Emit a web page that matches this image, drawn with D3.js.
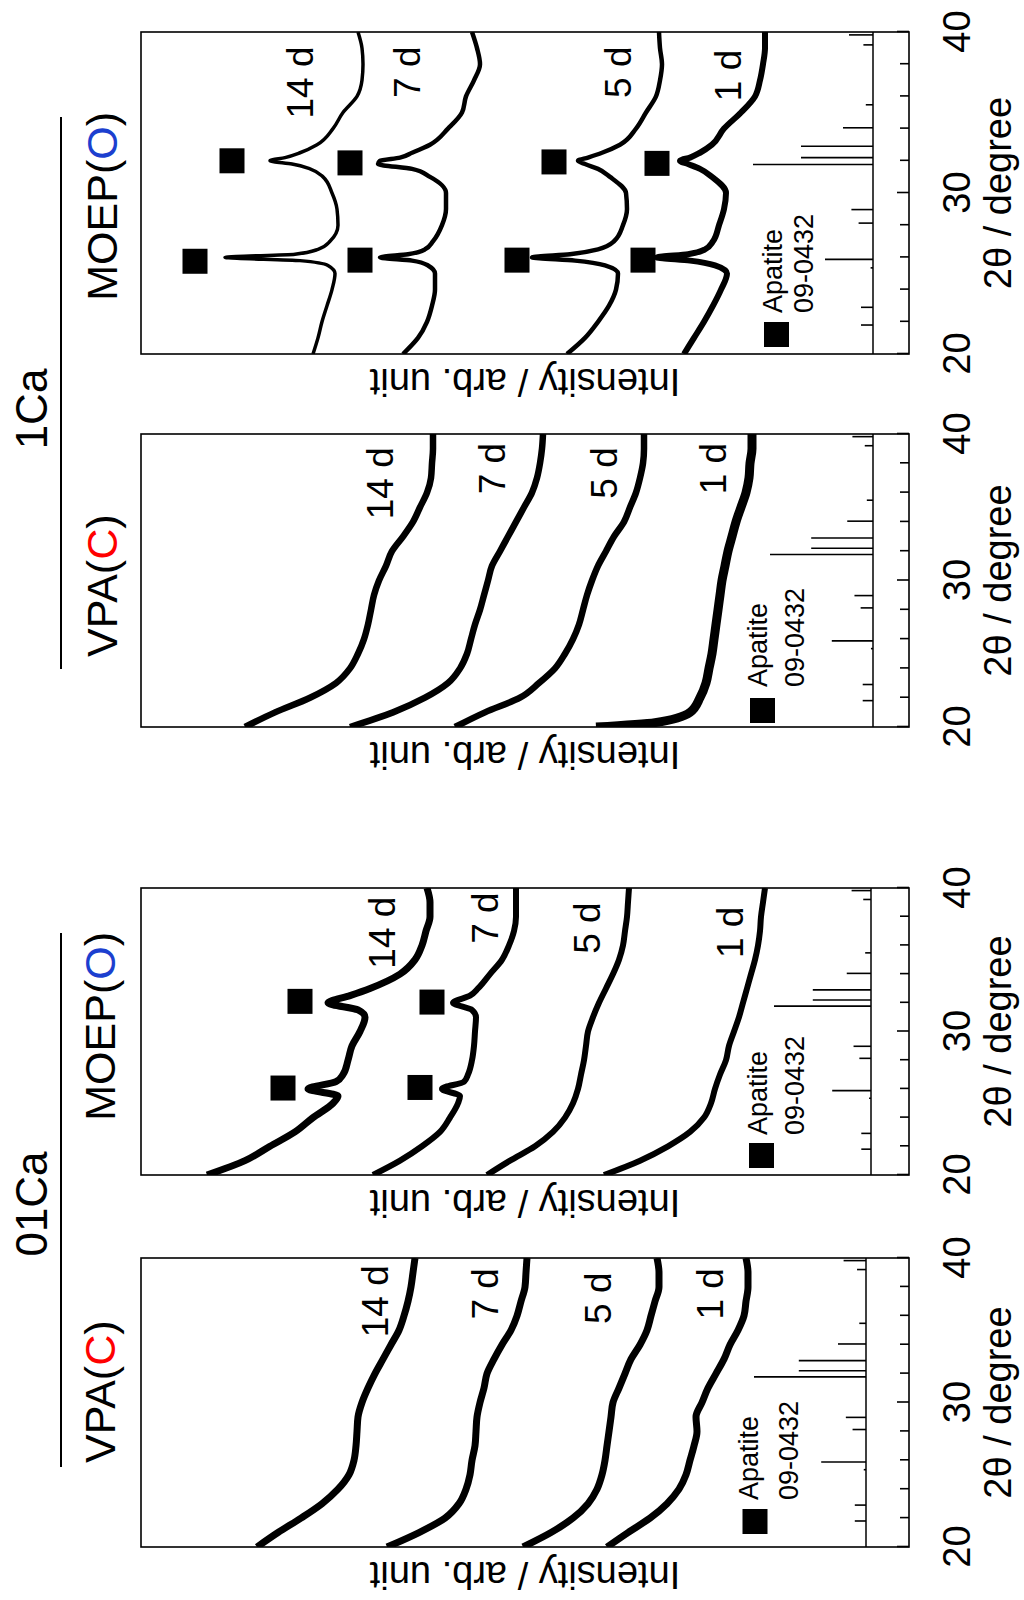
<!DOCTYPE html>
<html>
<head>
<meta charset="utf-8">
<script src="https://cdn.jsdelivr.net/npm/d3@7"></script>
<style>
  body { margin: 0; background: #fff; }
  svg { display: block; }
  text { font-family: "Liberation Sans", Arial, sans-serif; fill: #000; }
</style>
</head>
<body>
<div id="chart"></div>
<script>
// 2theta grids (degree)
var theta   = [20,21,22,23,24,25,26,27,28,29,30,31,32,33,34,35,36,37,38,39,40];
var thetaPk = [20,21,22,23,24,25,25.5,26,26.5,27,28,29,30,31,31.5,32,32.5,33,34,35,36,37,38,39,40];
var thetaC1 = [20,20.3,21,22,23,24,25,26,27,28,29,30,31,32,33,34,35,36,37,38,39,40];
var thetaD  = [20,21,22,23,24,25,25.5,25.8,26,26.2,26.5,27,28,29,30,31,31.5,31.8,32,32.2,32.5,33,34,35,36,37,38,39,40];

var days = ["14 d", "7 d", "5 d", "1 d"];

// 01Ca, VPA(C)  (intensity, arb. unit)
var vpa01_14 = [652,631,608,587,571,560,555,553,552,551,547,541,534,526,518,510,505,501,498,496,494];
var vpa01_7  = [522,490,464,450,443,439,437,434,433,432,429,425,422,415,407,398,392,388,384,383,382];
var vpa01_5  = [386,358,336,321,312,307,304,302,300,298,296,290,284,278,269,262,258,254,250,250,252];
var vpa01_1  = [302,281,259,242,230,223,219,215,212,213,207,201,193,185,179,171,165,163,161,161,163];

// 01Ca, MOEP(O)
var moep01_14 = [702,664,639,614,596,576,571,601,573,566,561,557,549,544,551,581,559,539,509,494,487,483,479,479,482];
var moep01_7  = [536,509,487,469,459,451,449,467,445,441,437,435,434,433,437,456,439,431,419,407,400,395,393,393,393];
var moep01_5  = [422,399,374,356,344,336,331,328,325,323,321,316,310,303,296,290,286,284,282,281,280];
var moep01_1  = [305,269,241,219,205,198,194,189,183,180,175,170,166,162,158,154,151,149,148,146,144];

// 1Ca, VPA(C)
var vpa1_14 = [664,634,599,573,559,551,545,541,538,535,530,523,517,506,496,489,482,478,477,476,476];
var vpa1_7  = [559,516,484,461,449,442,438,434,429,425,421,417,409,401,393,385,377,372,369,367,366];
var vpa1_5  = [454,424,389,370,354,344,336,330,326,322,317,311,303,295,285,279,273,269,266,265,265];
var vpa1_1  = [313,254,219,209,203,200,197,195,193,191,189,187,184,181,177,173,168,163,160,159,157,157];

// 1Ca, MOEP(O)
var moep1_14 = [596,591,587,582,577,574,581,609,684,614,591,579,571,572,577,586,599,617,639,624,609,592,576,566,552,547,546,547,551];
var moep1_7  = [506,491,482,477,474,474,481,497,529,501,484,476,467,463,463,479,497,531,529,509,497,479,461,447,443,435,429,432,437];
var moep1_5  = [342,324,311,300,293,291,304,334,377,339,311,295,286,282,283,299,311,324,331,321,307,289,273,263,253,249,247,249,250];
var moep1_1  = [225,215,205,196,188,182,194,219,252,221,204,196,190,185,183,197,209,221,229,219,209,197,185,168,154,149,146,144,144];

// apatite peak marks [2theta, intensity]
var markB14 = [[26.06,626],[32.1,609]];
var markB7  = [[26.1,489],[32.05,477]];
var markD14 = [[25.76,714],[32.0,677]];
var markD7  = [[25.83,549],[31.87,559]];
var markD5  = [[25.83,392],[31.93,355]];
var markD1  = [[25.83,266],[31.84,252]];

// JCPDS 09-0432 apatite reference
var refTheta = [21.8,22.9,25.35,25.88,28.13,28.97,31.77,32.2,32.9,34.05,35.48,39.2,39.82];
var refInt   = [10,10,2,40,12,18,100,60,60,25,6,8,20];

var W = 1024, H = 1600;
var vTop = 141, vBot = 909;
var font = "'Liberation Sans', Arial, sans-serif";

var svg = d3.select("#chart").append("svg")
  .attr("width", W)
  .attr("height", H);

// the figure sits on its side: draw it landscape and turn it
var g = svg.append("g")
  .attr("transform", "translate(0," + H + ") rotate(-90)");

var panels = [
  { id: "a", u0: 53, u1: 342, base: 866, stickMax: 112,
    curves: [[theta, vpa01_14, 7], [theta, vpa01_7, 7], [theta, vpa01_5, 7], [theta, vpa01_1, 7]],
    marks: [],
    lab: [[39.5,521],[39.3,411],[39.0,298],[39.3,186]],
    leg: {sq: 25.5, sv: 755, t: 47, b1: 758, b2: 798} },
  { id: "b", u0: 425, u1: 712, base: 871, stickMax: 97,
    curves: [[thetaPk, moep01_14, 7], [thetaPk, moep01_7, 6], [theta, moep01_5, 6], [theta, moep01_1, 6]],
    marks: markB14.concat(markB7),
    lab: [[39.4,514],[39.7,411],[39.0,309],[38.7,166]],
    leg: {sq: 19.5, sv: 761.5, t: 40, b1: 767, b2: 804} },
  { id: "c", u0: 873, u1: 1166, base: 873, stickMax: 103,
    curves: [[theta, vpa1_14, 6.5], [theta, vpa1_7, 6.5], [theta, vpa1_5, 6.5], [thetaC1, vpa1_1, 9]],
    marks: [],
    lab: [[39.1,516],[39.4,404],[39.1,292],[39.4,183]],
    leg: {sq: 16.5, sv: 762.5, t: 40, b1: 767, b2: 804} },
  { id: "d", u0: 1246, u1: 1568, base: 873, stickMax: 120,
    curves: [[thetaD, moep1_14, 3.5], [thetaD, moep1_7, 4.5], [thetaD, moep1_5, 4.5], [thetaD, moep1_1, 6]],
    marks: markD14.concat(markD7, markD5, markD1),
    lab: [[39.1,596],[39.1,489],[39.1,278],[38.9,168]],
    leg: {sq: 19.5, sv: 776.5, t: 41, b1: 782, b2: 813} }
];

var defs = svg.append("defs");

panels.forEach(function(p) {
  var x = d3.scaleLinear().domain([20, 40]).range([p.u0, p.u1]);
  var y = d3.scaleLinear().domain([0, 768]).range([vBot, vTop]);
  var s = d3.scaleLinear().domain([0, 100]).range([p.base, p.base - p.stickMax]);
  var pg = g.append("g");

  defs.append("clipPath").attr("id", "clip-" + p.id)
    .append("rect")
      .attr("x", p.u0).attr("y", vTop)
      .attr("width", p.u1 - p.u0).attr("height", vBot - vTop);

  var line = d3.line()
    .x(function(d) { return x(d[0]); })
    .y(function(d) { return y(d[1]); })
    .curve(d3.curveMonotoneX);

  var cg = pg.append("g").attr("clip-path", "url(#clip-" + p.id + ")");
  p.curves.forEach(function(c) {
    cg.append("path")
      .datum(d3.zip(c[0], c[1]))
      .attr("fill", "none")
      .attr("stroke", "#000")
      .attr("stroke-width", c[2])
      .attr("stroke-linejoin", "round")
      .attr("d", line);
  });

  // reference pattern sticks
  pg.append("line")
    .attr("x1", p.u0).attr("x2", p.u1)
    .attr("y1", p.base).attr("y2", p.base)
    .attr("stroke", "#000").attr("stroke-width", 1.5);
  pg.selectAll(".stick")
    .data(d3.zip(refTheta, refInt))
    .enter().append("line")
      .attr("x1", function(d) { return x(d[0]); })
      .attr("x2", function(d) { return x(d[0]); })
      .attr("y1", s(0))
      .attr("y2", function(d) { return s(d[1]); })
      .attr("stroke", "#000").attr("stroke-width", 1.6);

  // peak squares
  pg.selectAll(".mk")
    .data(p.marks)
    .enter().append("rect")
      .attr("x", function(d) { return x(d[0]) - 12.5; })
      .attr("y", function(d) { return y(d[1]) - 12.5; })
      .attr("width", 25).attr("height", 25)
      .attr("fill", "#000");

  // day labels
  pg.selectAll(".day")
    .data(p.lab)
    .enter().append("text")
      .attr("x", function(d) { return x(d[0]); })
      .attr("y", function(d) { return y(d[1]); })
      .attr("text-anchor", "end")
      .attr("font-size", 37)
      .text(function(d, i) { return days[i]; });

  // frame
  pg.append("rect")
    .attr("x", p.u0).attr("y", vTop)
    .attr("width", p.u1 - p.u0).attr("height", vBot - vTop)
    .attr("fill", "none").attr("stroke", "#000").attr("stroke-width", 1.6);

  // 2theta axis, ticks inside
  var axis = d3.axisBottom(x)
    .tickValues([20,22,24,26,28,30,32,34,36,38,40])
    .tickSize(-9)
    .tickPadding(34)
    .tickFormat(function(d) { return d % 10 === 0 ? d : ""; });
  var ax = pg.append("g")
    .attr("transform", "translate(0," + vBot + ")")
    .call(axis)
    .attr("font-size", 38)
    .attr("font-family", font);
  ax.select(".domain").remove();
  ax.selectAll(".tick line")
    .attr("y2", function(d) { return d % 10 === 0 ? -12 : -9; })
    .attr("stroke-width", 1.6);

  pg.append("text")
    .attr("x", (p.u0 + p.u1) / 2).attr("y", 1011)
    .attr("text-anchor", "middle")
    .attr("font-size", 38)
    .text("2θ / degree");

  pg.append("text")
    .attr("transform", "translate(" + (p.u0 - 15) + "," + ((vTop + vBot) / 2) + ") rotate(-90)")
    .attr("text-anchor", "middle")
    .attr("font-size", 38)
    .text("Intensity / arb. unit");

  // legend
  pg.append("rect")
    .attr("x", p.u0 + p.leg.sq - 12.5).attr("y", p.leg.sv - 12.5)
    .attr("width", 25).attr("height", 25)
    .attr("fill", "#000");
  pg.append("text")
    .attr("x", p.u0 + p.leg.t).attr("y", p.leg.b1)
    .attr("font-size", 27)
    .text("Apatite");
  pg.append("text")
    .attr("x", p.u0 + p.leg.t).attr("y", p.leg.b2)
    .attr("font-size", 27)
    .text("09-0432");
});

// sample group headings
var groups = [
  {name: "01Ca", c: 396, r0: 133, r1: 667, base: 115, left: 137, right: 668},
  {name: "1Ca", c: 1191, r0: 931, r1: 1483, base: 117, left: 943, right: 1488}
];
groups.forEach(function(gr) {
  g.append("text")
    .attr("x", gr.c).attr("y", 47)
    .attr("text-anchor", "middle")
    .attr("font-size", 44)
    .text(gr.name);
  g.append("line")
    .attr("x1", gr.r0).attr("x2", gr.r1)
    .attr("y1", 61).attr("y2", 61)
    .attr("stroke", "#000").attr("stroke-width", 2);

  var t1 = g.append("text")
    .attr("x", gr.left).attr("y", gr.base)
    .attr("font-size", 43);
  t1.append("tspan").text("VPA(");
  t1.append("tspan").attr("fill", "#ff0000").text("C");
  t1.append("tspan").text(")");

  var t2 = g.append("text")
    .attr("x", gr.right).attr("y", gr.base)
    .attr("text-anchor", "end")
    .attr("font-size", 43);
  t2.append("tspan").text("MOEP(");
  t2.append("tspan").attr("fill", "#1c3fcf").text("O");
  t2.append("tspan").text(")");
});
</script>
</body>
</html>
